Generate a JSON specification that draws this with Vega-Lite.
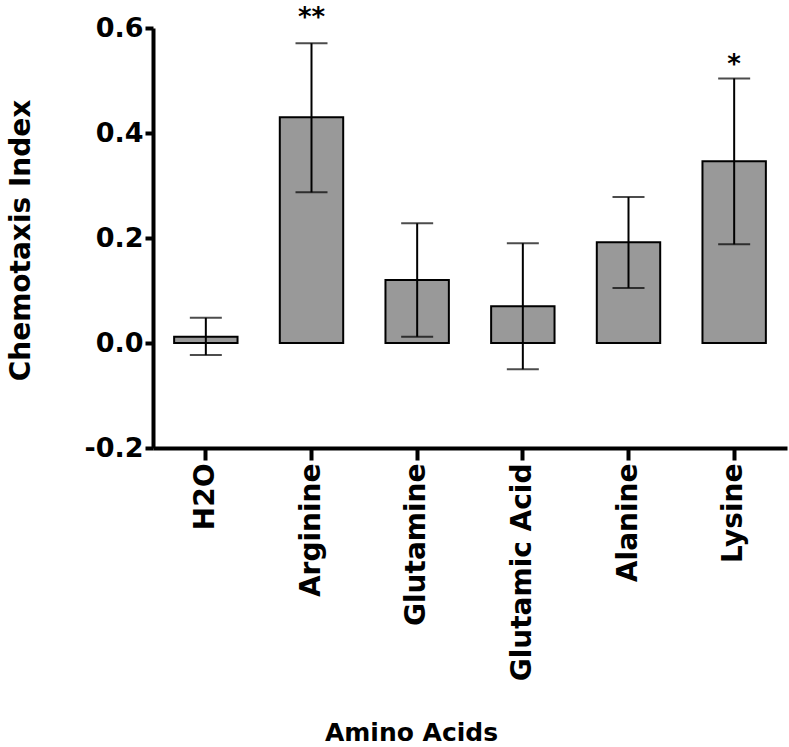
{
  "$schema": "https://vega.github.io/schema/vega-lite/v6.json",
  "autosize": "none",
  "width": 634,
  "height": 420,
  "padding": {"left": 153, "top": 28, "right": 2, "bottom": 299},
  "background": "white",
  "config": {
    "view": {"stroke": null},
    "axis": {
      "domainColor": "black",
      "domainWidth": 4,
      "tickColor": "black",
      "tickWidth": 4,
      "labelColor": "black",
      "titleColor": "black",
      "labelFont": "DejaVu Sans",
      "titleFont": "DejaVu Sans",
      "labelFontWeight": "bold",
      "titleFontWeight": "bold",
      "labelLimit": 0,
      "grid": false
    }
  },
  "data": {
    "values": [
      {"acid": "H2O", "mean": 0.012, "lower": -0.023, "upper": 0.048, "sig": ""},
      {"acid": "Arginine", "mean": 0.43, "lower": 0.287, "upper": 0.571, "sig": "**"},
      {"acid": "Glutamine", "mean": 0.12, "lower": 0.012, "upper": 0.228, "sig": ""},
      {"acid": "Glutamic Acid", "mean": 0.07, "lower": -0.05, "upper": 0.19, "sig": ""},
      {"acid": "Alanine", "mean": 0.192, "lower": 0.105, "upper": 0.278, "sig": ""},
      {"acid": "Lysine", "mean": 0.346, "lower": 0.188, "upper": 0.504, "sig": "*"}
    ]
  },
  "encoding": {
    "x": {
      "field": "acid",
      "type": "nominal",
      "sort": null,
      "scale": {"paddingInner": 0.4, "paddingOuter": 0.2},
      "axis": {
        "title": "Amino Acids",
        "labelAngle": -90,
        "labelFontSize": 28,
        "titleFontSize": 25,
        "tickSize": 12,
        "labelPadding": 3,
        "titleX": 258,
        "titleY": 292,
        "titleBaseline": "alphabetic",
        "titleAlign": "center"
      }
    }
  },
  "layer": [
    {
      "mark": {"type": "bar", "fill": "#999999", "stroke": "black", "strokeWidth": 2},
      "encoding": {
        "y": {
          "field": "mean",
          "type": "quantitative",
          "scale": {"domain": [-0.2, 0.6], "nice": false, "zero": false},
          "axis": {
            "title": "Chemotaxis Index",
            "values": [-0.2, 0, 0.2, 0.4, 0.6],
            "labelExpr": "datum.value < 0 ? '-' + format(-datum.value, '.1f') : format(datum.value, '.1f')",
            "labelFontSize": 27,
            "titleFontSize": 28,
            "tickSize": 8,
            "labelPadding": 2,
            "titleX": -124,
            "titleY": 212,
            "titleBaseline": "alphabetic",
            "titleAlign": "center"
          }
        },
        "y2": {"datum": 0}
      }
    },
    {
      "mark": {"type": "rule", "color": "black", "strokeWidth": 4},
      "encoding": {"y": {"datum": 0}}
    },
    {
      "mark": {"type": "rule", "color": "black", "strokeWidth": 2},
      "encoding": {
        "y": {"field": "lower", "type": "quantitative"},
        "y2": {"field": "upper"}
      }
    },
    {
      "mark": {"type": "tick", "color": "black", "size": 32, "thickness": 2},
      "encoding": {"y": {"field": "upper", "type": "quantitative"}}
    },
    {
      "mark": {"type": "tick", "color": "black", "size": 32, "thickness": 2},
      "encoding": {"y": {"field": "lower", "type": "quantitative"}}
    },
    {
      "transform": [{"filter": "datum.sig == '**'"}],
      "mark": {"type": "text", "font": "DejaVu Sans", "fontSize": 26, "fontWeight": "bold", "baseline": "alphabetic", "dy": -17, "color": "black"},
      "encoding": {
        "y": {"field": "upper", "type": "quantitative"},
        "text": {"field": "sig"}
      }
    },
    {
      "transform": [{"filter": "datum.sig == '*'"}],
      "mark": {"type": "text", "font": "DejaVu Sans", "fontSize": 26, "fontWeight": "bold", "baseline": "alphabetic", "dy": -5, "color": "black"},
      "encoding": {
        "y": {"field": "upper", "type": "quantitative"},
        "text": {"field": "sig"}
      }
    }
  ]
}
